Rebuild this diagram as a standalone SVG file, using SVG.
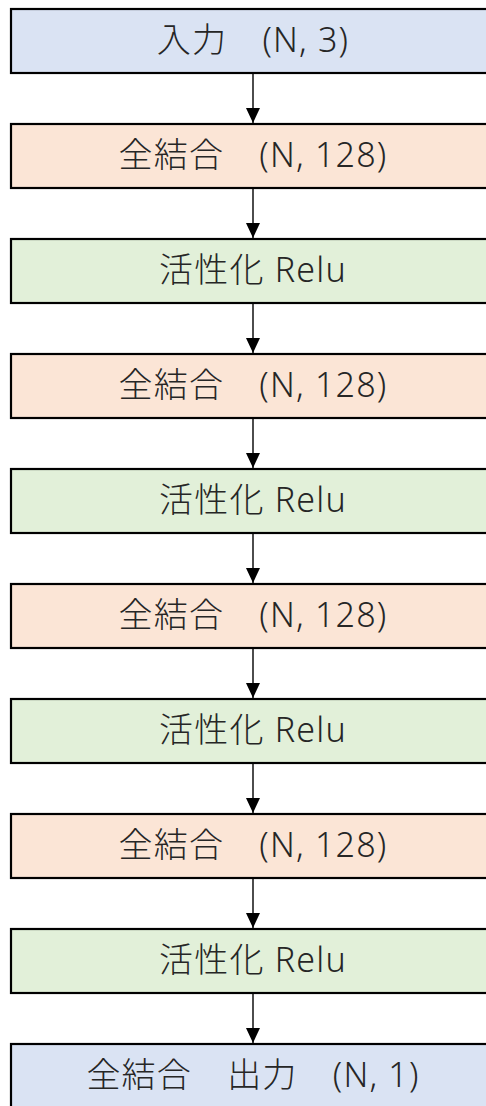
<svg xmlns="http://www.w3.org/2000/svg" width="486" height="1106" viewBox="0 0 486 1106">
<style>
.box{stroke:#000;stroke-width:2.2}
.blue{fill:#DAE3F3}.orange{fill:#FBE5D6}.green{fill:#E2F0D9}
.t{font-family:"Noto Sans","Noto Sans CJK JP",sans-serif;font-size:34px;font-weight:300;fill:#262626;text-anchor:middle;letter-spacing:1.2px}
.c{stroke:#000;stroke-width:1.4;fill:none}
</style>
<defs>
<marker id="ah" viewBox="0 0 15 14" refX="15" refY="7" markerWidth="15" markerHeight="14" markerUnits="userSpaceOnUse" orient="auto">
<path d="M0,0 L15,7 L0,14 Z" fill="#000"/>
</marker>
</defs>
<g id="connectors">
<line class="c" x1="253" y1="74" x2="253" y2="123" marker-end="url(#ah)"/>
<line class="c" x1="253" y1="189" x2="253" y2="238" marker-end="url(#ah)"/>
<line class="c" x1="253" y1="304" x2="253" y2="353" marker-end="url(#ah)"/>
<line class="c" x1="253" y1="419" x2="253" y2="468" marker-end="url(#ah)"/>
<line class="c" x1="253" y1="534" x2="253" y2="583" marker-end="url(#ah)"/>
<line class="c" x1="253" y1="649" x2="253" y2="698" marker-end="url(#ah)"/>
<line class="c" x1="253" y1="764" x2="253" y2="813" marker-end="url(#ah)"/>
<line class="c" x1="253" y1="879" x2="253" y2="928" marker-end="url(#ah)"/>
<line class="c" x1="253" y1="994" x2="253" y2="1043" marker-end="url(#ah)"/>
</g>
<g id="n1"><rect class="box blue" x="11" y="9" width="484" height="64"/><text class="t" x="253" y="52">入力　(N, 3)</text></g>
<g id="n2"><rect class="box orange" x="11" y="124" width="484" height="64"/><text class="t" x="253" y="167">全結合　(N, 128)</text></g>
<g id="n3"><rect class="box green" x="11" y="239" width="484" height="64"/><text class="t" x="253" y="282">活性化 Relu</text></g>
<g id="n4"><rect class="box orange" x="11" y="354" width="484" height="64"/><text class="t" x="253" y="397">全結合　(N, 128)</text></g>
<g id="n5"><rect class="box green" x="11" y="469" width="484" height="64"/><text class="t" x="253" y="512">活性化 Relu</text></g>
<g id="n6"><rect class="box orange" x="11" y="584" width="484" height="64"/><text class="t" x="253" y="627">全結合　(N, 128)</text></g>
<g id="n7"><rect class="box green" x="11" y="699" width="484" height="64"/><text class="t" x="253" y="742">活性化 Relu</text></g>
<g id="n8"><rect class="box orange" x="11" y="814" width="484" height="64"/><text class="t" x="253" y="857">全結合　(N, 128)</text></g>
<g id="n9"><rect class="box green" x="11" y="929" width="484" height="64"/><text class="t" x="253" y="972">活性化 Relu</text></g>
<g id="n10"><rect class="box blue" x="11" y="1044" width="484" height="64"/><text class="t" x="253" y="1087">全結合　出力　(N, 1)</text></g>
</svg>
